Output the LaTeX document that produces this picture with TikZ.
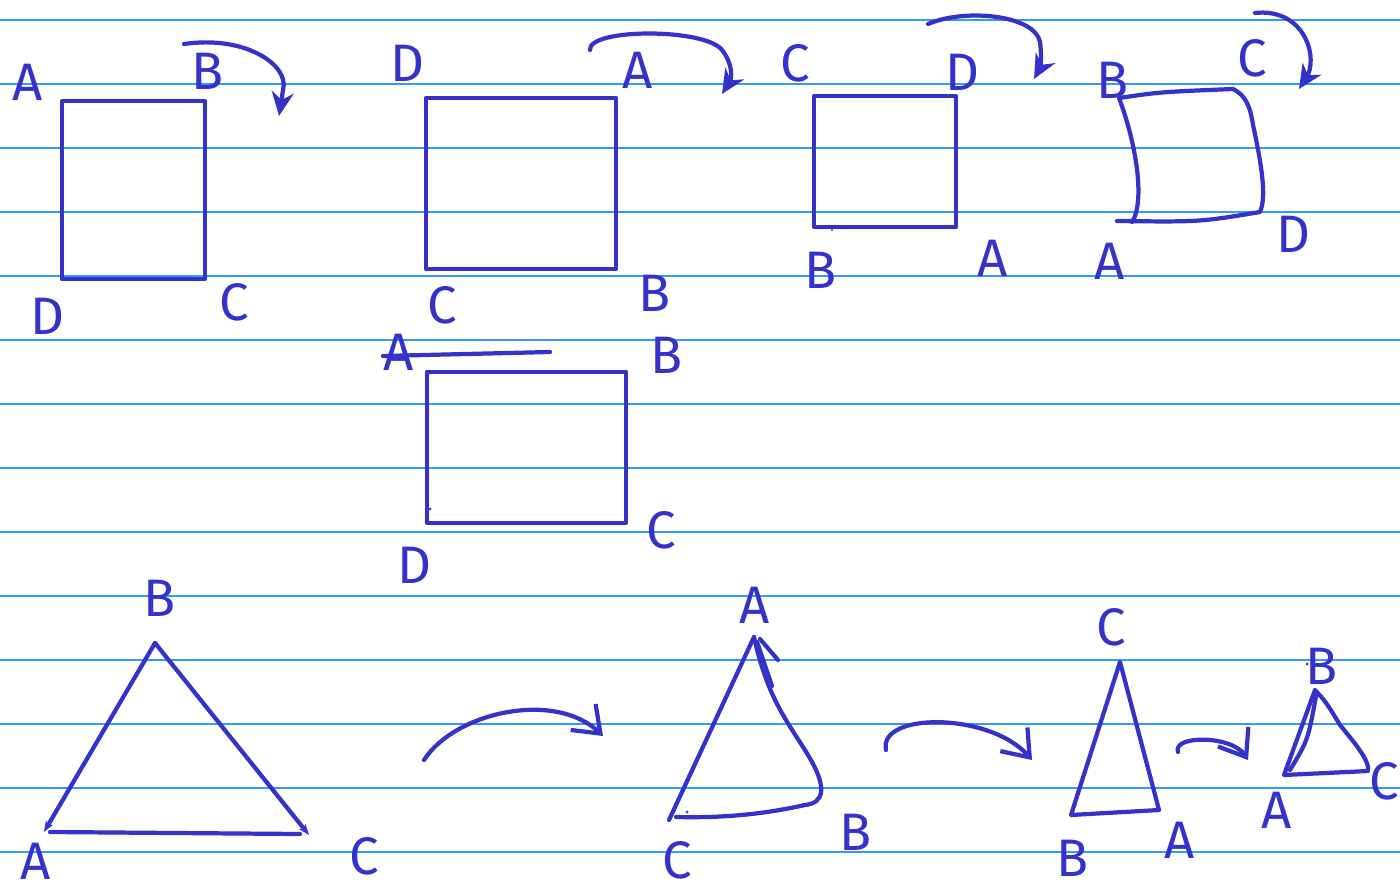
\documentclass[tikz,border=0pt]{standalone}
\usepackage{fontspec}
\newfontfamily\handfont{Fira Sans}
\usepackage{tikz}
\usetikzlibrary{arrows.meta}
\definecolor{inkblue}{RGB}{51,51,204}
\definecolor{ruleblue}{RGB}{51,153,255}
\tikzset{
  pen/.style={draw=inkblue, line width=1.2pt, line cap=round, line join=round},
  letter/.style={font=\handfont\fontsize{15}{15}\selectfont, text=inkblue, inner sep=0pt},
  swap/.style={pen, -{Stealth[length=2.4mm, width=2.2mm]}},
  barb/.style={pen, -{Straight Barb[length=2.4mm, width=3.6mm]}}
}

\begin{document}
\begin{tikzpicture}[x=0.01cm, y=-0.01cm]
	\useasboundingbox (0,0) rectangle (1400,888);
	\fill[white] (0,0) rectangle (1400,888);
	% ruled paper
	\foreach \ry in {20,84,...,852}
		\draw[ruleblue, line width=0.45pt] (0,\ry) -- (1400,\ry);

	% first square
	\draw[pen] (62,101) rectangle (205,279);
	\node[letter] (sqaA) at (28,82) {A};
	\node[letter] (sqaB) at (208,71) {B};
	\node[letter] (sqaC) at (234,302) {C};
	\node[letter] (sqaD) at (47,316) {D};
	\coordinate (turnaS) at (184,44);
	\coordinate (turnaE) at (279,116);
	\draw[swap] (turnaS) .. controls (245,35) and (290,65) .. (283,90) -- (turnaE);

	% second square
	\draw[pen] (426,98) rectangle (616,269);
	\node[letter] (sqbD) at (407,63) {D};
	\node[letter] (sqbA) at (638,70) {A};
	\node[letter] (sqbC) at (442,305) {C};
	\node[letter] (sqbB) at (655,293) {B};
	\coordinate (turnbS) at (590,50);
	\coordinate (turnbE) at (722,94);
	\draw[swap] (turnbS) .. controls (588,28) and (705,28) .. (722,50) .. controls (733,64) and (732,78) .. (turnbE);

	% third square
	\draw[pen] (814,96) rectangle (956,227);
	\fill[inkblue] (832,230) circle (1.2);
	\node[letter] (sqcC) at (795,63) {C};
	\node[letter] (sqcD) at (962,72) {D};
	\node[letter] (sqcB) at (821,270) {B};
	\node[letter] (sqcA) at (993,258) {A};
	\coordinate (turncS) at (928,24);
	\coordinate (turncE) at (1034,79);
	\draw[swap] (turncS) .. controls (965,8) and (1035,15) .. (1040,42) .. controls (1042,58) and (1040,68) .. (turncE);

	% fourth, skewed square
	\draw[pen] (1119,98) .. controls (1160,92) .. (1233,89) .. controls (1245,95) and (1250,105) .. (1253,125)
		.. controls (1265,180) and (1265,200) .. (1260,212) .. controls (1200,222) .. (1117,221);
	\draw[pen] (1119,98) .. controls (1135,140) and (1146,200) .. (1132,222);
	\node[letter] (sqdB) at (1113,80) {B};
	\node[letter] (sqdC) at (1252,58) {C};
	\node[letter] (sqdA) at (1110,261) {A};
	\node[letter] (sqdD) at (1293,234) {D};
	\coordinate (turndS) at (1255,13);
	\coordinate (turndE) at (1299,89);
	\draw[swap] (turndS) .. controls (1300,8) and (1318,50) .. (1308,75) -- (turndE);

	% flipped square
	\draw[pen] (427,372) rectangle (626,523);
	\draw[pen] (383,356) -- (550,352);
	\fill[inkblue] (430,509) circle (1.5);
	\node[letter] (sqeA) at (399,352) {A};
	\node[letter] (sqeB) at (667,355) {B};
	\node[letter] (sqeC) at (661,530) {C};
	\node[letter] (sqeD) at (414,565) {D};

	% first triangle
	\draw[pen, -{Stealth[length=1.1mm]}] (155,643) -- (44,832);
	\draw[pen, -{Stealth[length=1.1mm]}] (155,643) -- (309,835);
	\draw[pen] (50,832) -- (300,834);
	\node[letter] (traB) at (160,598) {B};
	\node[letter] (traA) at (36,861) {A};
	\node[letter] (traC) at (364,856) {C};
	\coordinate (rolaS) at (424,760);
	\coordinate (rolaE) at (603,736);
	\draw[barb] (rolaS) .. controls (455,712) and (555,690) .. (rolaE);

	% second triangle
	\draw[pen] (754,637) -- (669,820);
	\draw[pen] (754,637) .. controls (768,700) and (788,722) .. (808,755) .. controls (828,788) and (824,803) .. (805,805)
		.. controls (760,815) and (720,818) .. (676,817);
	\draw[pen] (760,639) -- (778,660);
	\draw[pen] (757,642) -- (772,686);
	\fill[inkblue] (687,812) circle (1.5);
	\node[letter] (trbA) at (755,605) {A};
	\node[letter] (trbC) at (677,860) {C};
	\node[letter] (trbB) at (856,832) {B};
	\coordinate (rolbS) at (886,750);
	\coordinate (rolbE) at (1032,760);
	\draw[barb] (rolbS) .. controls (878,712) and (990,712) .. (rolbE);

	% third triangle
	\draw[pen] (1120,662) -- (1071,815) -- (1159,810) -- cycle;
	\node[letter] (trcC) at (1111,627) {C};
	\node[letter] (trcB) at (1073,858) {B};
	\node[letter] (trcA) at (1180,840) {A};
	\coordinate (rolcS) at (1178,752);
	\coordinate (rolcE) at (1248,760);
	\draw[barb] (rolcS) .. controls (1172,735) and (1232,735) .. (rolcE);

	% fourth triangle
	\draw[pen] (1315,690) -- (1284,775) -- (1368,771) .. controls (1370,760) and (1352,740) .. (1340,725)
		.. controls (1326,702) .. (1315,690);
	\draw[pen] (1316,696) .. controls (1308,740) .. (1290,770);
	\fill[inkblue] (1307,664) circle (1.5);
	\node[letter] (trdB) at (1322,666) {B};
	\node[letter] (trdA) at (1277,810) {A};
	\node[letter] (trdC) at (1384,781) {C};
\end{tikzpicture}
\end{document}
